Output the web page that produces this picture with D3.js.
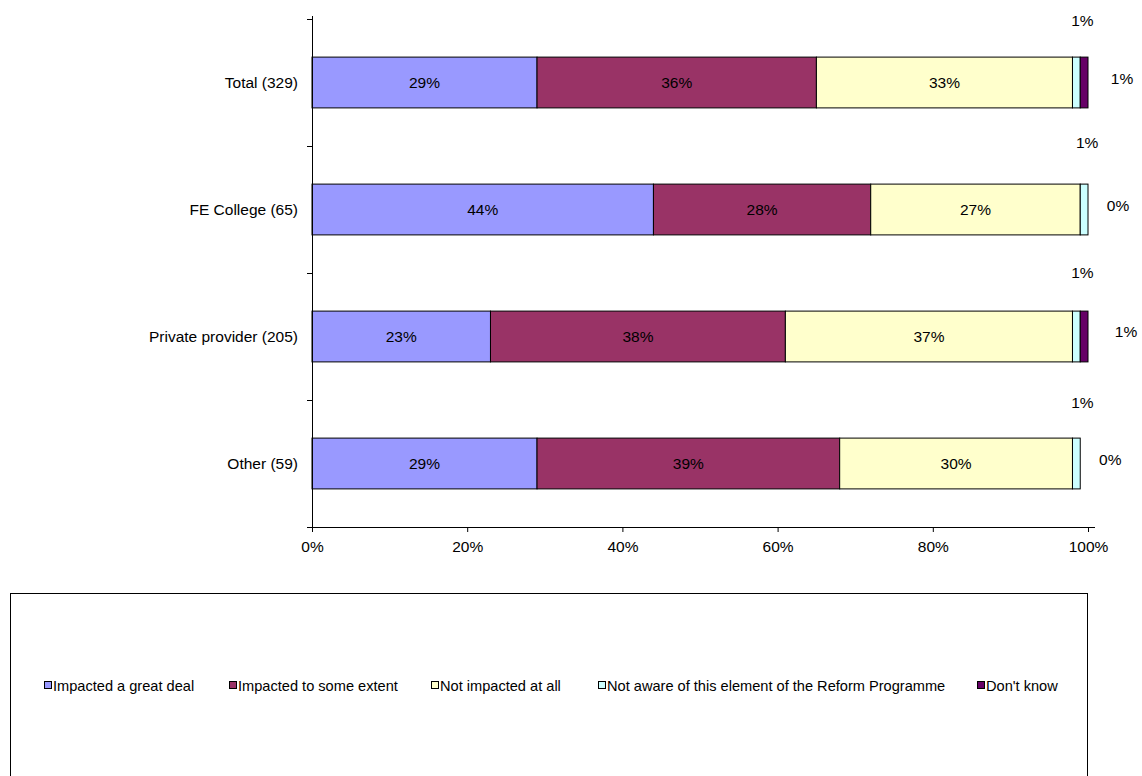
<!DOCTYPE html>
<html>
<head>
<meta charset="utf-8">
<script src="https://cdn.jsdelivr.net/npm/d3@7"></script>
<style>
  html, body { margin: 0; padding: 0; background: #fff; }
  svg { display: block; font-family: "Liberation Sans", Arial, sans-serif; }
</style>
</head>
<body>
<svg id="chart" width="1142" height="776"></svg>
<script>
// Survey responses by provider type (percent of respondents)
const categories = ["Total (329)", "FE College (65)", "Private provider (205)", "Other (59)"];
const seriesNames = [
  "Impacted a great deal",
  "Impacted to some extent",
  "Not impacted at all",
  "Not aware of this element of the Reform Programme",
  "Don't know"
];
const greatDeal   = [29, 44, 23, 29];
const someExtent  = [36, 28, 38, 39];
const notAtAll    = [33, 27, 37, 30];
const notAware    = [1, 1, 1, 1];
const dontKnow    = [1, 0, 1, 0];
const xTicks = [0, 20, 40, 60, 80, 100];

const colors = ["#9999FF", "#993366", "#FFFFCC", "#CCFFFF", "#660066"];

// Hand-placed offsets for the labels of the thin end segments
const awareNudge = [{dx: 6, dy: -37}, {dx: 3, dy: -42}, {dx: 6, dy: -39}, {dx: 6, dy: -36}];
const dkNudge    = [{dx: 34, dy: -4}, {dx: 30, dy: -4}, {dx: 38, dy: -5}, {dx: 30, dy: -4}];

const seriesValues = [greatDeal, someExtent, notAtAll, notAware, dontKnow];
const rows = categories.map((c, i) => {
  const r = { category: c };
  seriesNames.forEach((s, k) => { r[s] = seriesValues[k][i]; });
  return r;
});
const stacked = d3.stack().keys(seriesNames)(rows);

const svg = d3.select("#chart");
const plot = { left: 312, right: 1088, top: 19, bottom: 527 };

const x = d3.scaleLinear().domain([0, 100]).range([plot.left, plot.right]);
const y = d3.scaleBand().domain(categories).range([plot.top, plot.bottom]).paddingInner(0.6).paddingOuter(0.3);
const yTicks = d3.scaleBand().domain(categories).range([plot.top, plot.bottom]);

const labelFont = 15.5;

// Bars
const layers = svg.append("g").selectAll("g").data(stacked).join("g")
  .attr("fill", (d, k) => colors[k]);
layers.selectAll("rect").data(d => d).join("rect")
  .filter(d => d[1] - d[0] > 0)
  .attr("x", d => x(d[0]))
  .attr("y", d => y(d.data.category))
  .attr("width", d => x(d[1]) - x(d[0]))
  .attr("height", y.bandwidth())
  .attr("stroke", "#000")
  .attr("stroke-width", 1);

// Labels for the three main segments, centred inside
stacked.slice(0, 3).forEach(layer => {
  svg.append("g").selectAll("text").data(layer).join("text")
    .attr("x", d => (x(d[0]) + x(d[1])) / 2)
    .attr("y", d => y(d.data.category) + y.bandwidth() / 2)
    .attr("text-anchor", "middle")
    .attr("dominant-baseline", "central")
    .attr("font-size", labelFont)
    .attr("fill", "#000")
    .text(d => (d[1] - d[0]) + "%");
});

// Labels for the thin "not aware" and "don't know" segments, set outside the bars
svg.append("g").selectAll("text").data(stacked[3]).join("text")
  .attr("x", (d, i) => (x(d[0]) + x(d[1])) / 2 + awareNudge[i].dx)
  .attr("y", (d, i) => y(d.data.category) + awareNudge[i].dy)
  .attr("text-anchor", "middle")
  .attr("dominant-baseline", "central")
  .attr("font-size", labelFont)
  .text(d => (d[1] - d[0]) + "%");

svg.append("g").selectAll("text").data(stacked[4]).join("text")
  .attr("x", (d, i) => x(d[1]) + dkNudge[i].dx)
  .attr("y", (d, i) => y(d.data.category) + y.bandwidth() / 2 + dkNudge[i].dy)
  .attr("text-anchor", "middle")
  .attr("dominant-baseline", "central")
  .attr("font-size", labelFont)
  .text(d => (d[1] - d[0]) + "%");

// Category axis
const yAxis = svg.append("g");
yAxis.append("line")
  .attr("x1", plot.left + 0.5).attr("x2", plot.left + 0.5)
  .attr("y1", plot.top - 3).attr("y2", plot.bottom)
  .attr("stroke", "#000");
const boundaries = categories.map(c => yTicks(c)).concat([plot.bottom]);
yAxis.selectAll("line.tick").data(boundaries).join("line")
  .attr("class", "tick")
  .attr("x1", plot.left - 5).attr("x2", plot.left)
  .attr("y1", d => Math.round(d) + 0.5).attr("y2", d => Math.round(d) + 0.5)
  .attr("stroke", "#000");
yAxis.selectAll("text").data(categories).join("text")
  .attr("x", plot.left - 14)
  .attr("y", d => y(d) + y.bandwidth() / 2)
  .attr("text-anchor", "end")
  .attr("dominant-baseline", "central")
  .attr("font-size", labelFont)
  .text(d => d);

// Percentage axis
const xAxis = svg.append("g").attr("transform", `translate(0,${plot.bottom})`)
  .call(d3.axisBottom(x).tickValues(xTicks).tickSize(5).tickFormat(d => d + "%"));
xAxis.select(".domain").attr("d", `M${plot.left},0.5H${plot.right + 7}`).attr("stroke", "#000");
xAxis.selectAll(".tick line").attr("stroke", "#000");
xAxis.selectAll(".tick text")
  .attr("font-size", labelFont)
  .attr("font-family", "Liberation Sans, Arial, sans-serif")
  .attr("fill", "#000")
  .attr("y", 20)
  .attr("dy", "0.35em");

// Legend
svg.append("rect")
  .attr("x", 10.5).attr("y", 593.5)
  .attr("width", 1077).attr("height", 190)
  .attr("fill", "none").attr("stroke", "#000");
const legendX = [44, 229, 431, 598, 977];
const legend = svg.append("g").selectAll("g").data(seriesNames).join("g")
  .attr("transform", (d, k) => `translate(${legendX[k]},686)`);
legend.append("rect")
  .attr("x", 0.5).attr("y", -4.5).attr("width", 7).attr("height", 7)
  .attr("fill", (d, k) => colors[k])
  .attr("stroke", "#000");
legend.append("text")
  .attr("x", 9).attr("y", 0)
  .attr("dominant-baseline", "central")
  .attr("font-size", 14.6)
  .text(d => d);
</script>
</body>
</html>
